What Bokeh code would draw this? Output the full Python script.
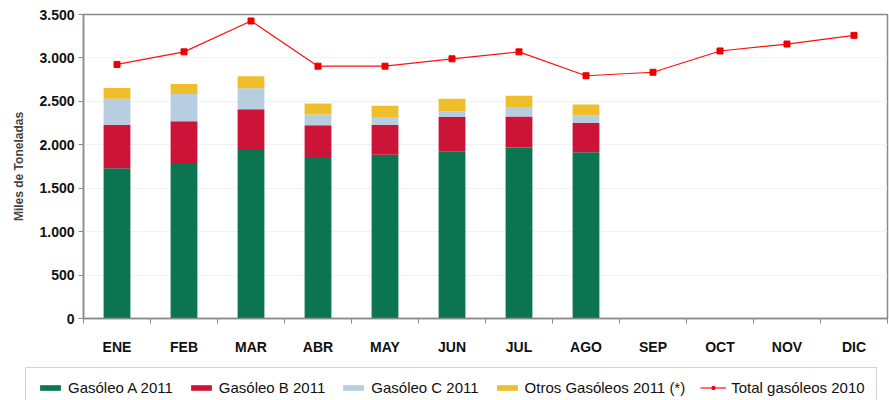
from bokeh.plotting import figure
from bokeh.layouts import column
from bokeh.models import (ColumnDataSource, FixedTicker, Legend, LegendItem, Range1d)
from bokeh.embed import file_html
from bokeh.resources import INLINE

months = ["ENE", "FEB", "MAR", "ABR", "MAY", "JUN", "JUL", "AGO", "SEP", "OCT", "NOV", "DIC"]
gasoleo_a_2011 = [1730, 1780, 1940, 1860, 1885, 1925, 1970, 1915]
gasoleo_b_2011 = [500, 490, 470, 365, 345, 395, 355, 340]
gasoleo_c_2011 = [300, 315, 240, 125, 90, 65, 110, 85]
otros_2011 = [125, 115, 140, 125, 130, 145, 130, 125]
total_2010 = [2925, 3070, 3425, 2905, 2905, 2990, 3070, 2795, 2835, 3080, 3160, 3260]
y_ticks = [0, 500, 1000, 1500, 2000, 2500, 3000, 3500]

series_keys = ["a", "b", "c", "o"]
series_labels = ["Gasóleo A 2011", "Gasóleo B 2011", "Gasóleo C 2011", "Otros Gasóleos 2011 (*)"]
series_colors = ["#0a7550", "#cc1438", "#b7cde0", "#eebf2a"]
line_label = "Total gasóleos 2010"
line_color = "#ff1010"

pos_all = [i + 1 for i in range(len(months))]
bar_src = ColumnDataSource(dict(x=pos_all[:len(gasoleo_a_2011)], a=gasoleo_a_2011,
                                b=gasoleo_b_2011, c=gasoleo_c_2011, o=otros_2011))
line_src = ColumnDataSource(dict(x=pos_all, y=total_2010))

font = "Liberation Sans"


def draw_series(fig):
    bars = fig.vbar_stack(series_keys, x="x", width=0.4, source=bar_src,
                          color=series_colors, line_color=None)
    ln = fig.line("x", "y", source=line_src, line_color=line_color, line_width=1.2)
    sc = fig.scatter("x", "y", source=line_src, marker="square", size=6,
                     fill_color="#ee0000", line_color="#ee0000")
    return bars, ln, sc


p = figure(width=889, height=360, output_backend="svg", toolbar_location=None,
           x_range=Range1d(0.5, len(months) + 0.5), y_range=Range1d(0, 3500),
           min_border_left=83, min_border_right=2, min_border_top=14, min_border_bottom=42)
draw_series(p)

p.outline_line_color = "#8a8a8a"
p.outline_line_width = 1.5

xa = p.xaxis[0]
xa.ticker = FixedTicker(ticks=pos_all, minor_ticks=[v + 0.5 for v in [0] + pos_all])
xa.major_label_overrides = {v: m for v, m in zip(pos_all, months)}
xa.major_tick_line_color = None
xa.minor_tick_in = 0
xa.minor_tick_out = 5
xa.minor_tick_line_color = "#8a8a8a"
xa.axis_line_color = "#8a8a8a"
xa.axis_line_width = 1.5
xa.major_label_text_font = font
xa.major_label_text_font_style = "bold"
xa.major_label_text_font_size = "14px"
xa.major_label_text_color = "#111111"
xa.major_label_standoff = 14

ya = p.yaxis[0]
ya.ticker = FixedTicker(ticks=y_ticks)
ya.major_label_overrides = {v: f"{v:,}".replace(",", ".") for v in y_ticks}
ya.major_tick_in = 0
ya.major_tick_out = 5
ya.major_tick_line_color = "#8a8a8a"
ya.minor_tick_line_color = None
ya.axis_line_color = "#8a8a8a"
ya.axis_line_width = 1.5
ya.major_label_text_font = font
ya.major_label_text_font_style = "bold"
ya.major_label_text_font_size = "14px"
ya.major_label_text_color = "#111111"
ya.major_label_standoff = 4
ya.axis_label = "Miles de Toneladas"
ya.axis_label_text_font = font
ya.axis_label_text_font_style = "bold"
ya.axis_label_text_font_size = "12px"
ya.axis_label_standoff = 10

p.xgrid.grid_line_color = None
p.ygrid.grid_line_color = "#f2f2f2"

# legend strip below the chart (its ranges keep the series out of view;
# the renderers only serve as legend swatches)
q = figure(width=889, height=40, output_backend="svg", toolbar_location=None,
           x_range=Range1d(-20, -19), y_range=Range1d(-20, -19),
           x_axis_location=None, y_axis_location=None,
           min_border=0, outline_line_color=None)
q.frame_align = False
p.frame_align = False
q.grid.visible = False
qbars, qln, qsc = draw_series(q)

items = [LegendItem(label=lbl, renderers=[r]) for lbl, r in zip(series_labels, qbars)]
items.append(LegendItem(label=line_label, renderers=[qln, qsc]))
legend = Legend(items=items, orientation="horizontal", location=(25, -8),
                border_line_color="#a8a8a8", border_line_width=1.5,
                label_text_font=font, label_text_font_size="15px",
                label_text_color="#111111",
                glyph_width=26, glyph_height=7, label_standoff=5, spacing=15,
                padding=11, margin=0, background_fill_alpha=1)
q.add_layout(legend, "center")

layout = column(p, q, spacing=0)
open("out.html", "w").write(file_html(layout, INLINE))
